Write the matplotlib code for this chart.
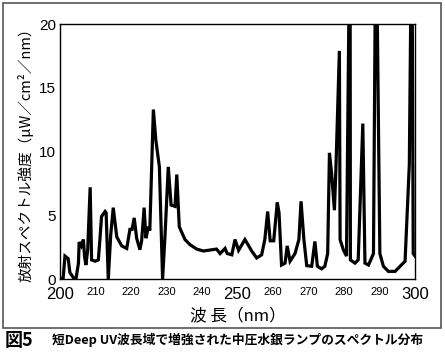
import matplotlib
matplotlib.use("Agg")
import matplotlib.pyplot as plt
from matplotlib.patches import Rectangle

# wavelength (nm) and intensity (uW/cm2/nm); peaks above 20 are clipped
wl = [200, 200.9, 201.4, 202.3, 202.8, 203.8, 204.5, 205.2, 205.4, 206.0, 206.6, 206.9,
      207.3, 207.8, 208.5, 208.9, 209.9, 210.8, 211.3, 211.7, 212.7, 213.0, 213.6, 214.3,
      215.0, 216.0, 217.4, 218.8, 219.7, 220.3, 220.9, 221.6, 222.5, 223.0, 223.7, 224.2,
      224.9, 225.3, 226.3, 227.0, 228.0, 228.9, 229.6, 230.5, 231.3, 232.4, 232.9, 233.6,
      235.2, 236.6, 238.5, 240.4, 244.1, 245.1, 246.5, 247.1, 248.4, 249.3, 250.3, 252.1,
      254.0, 255.4, 256.8, 257.7, 258.5, 259.2, 260.2, 261.2, 261.7, 262.4, 263.4, 264.0,
      264.8, 266.2, 267.3, 267.9, 268.7, 269.5, 270.9, 271.8, 272.5, 273.7, 274.6, 275.4,
      275.9, 276.5, 277.3, 277.7, 278.7, 278.9, 279.8, 280.7, 281.7, 281.8, 283.1, 284.0,
      285.3, 285.9, 286.9, 288.3, 289.0, 290.1, 291.1, 292.5, 294.4, 295.8, 297.2, 298.4,
      299.1, 299.5, 300]
intensity = [0, 0.1, 1.8, 1.6, 0.5, 0.1, 0, 1.25, 2.9, 2.6, 3.1, 1.8,
             1.1, 2.3, 7.2, 1.5, 1.4, 1.5, 3.3, 4.9, 5.3, 5.2, 0, 3.5,
             5.6, 3.3, 2.6, 2.4, 3.9, 3.9, 4.8, 3.2, 2.3, 3.0, 5.6, 3.2,
             4.1, 3.8, 13.3, 10.9, 8.8, 0, 3.5, 8.8, 5.8, 5.7, 8.2, 4.1,
             3.1, 2.7, 2.35, 2.2, 2.35, 2.0, 2.4, 2.0, 1.9, 3.1, 2.25, 3.1,
             2.2, 1.65, 1.9, 3.1, 5.3, 3.0, 3.0, 6.0, 5.2, 1.1, 1.25, 2.6,
             1.4, 2.0, 3.1, 6.1, 3.1, 1.05, 1.0, 2.95, 1.0, 0.8, 1.0, 2.0,
             9.9, 8.3, 5.4, 8.5, 17.9, 3.1, 2.3, 1.8, 30, 1.5, 1.25, 1.5,
             12.2, 1.25, 1.1, 2.0, 30, 2.0, 1.0, 0.6, 0.6, 1.0, 1.4, 9.0,
             30, 2.0, 1.8]

xticks = [200, 210, 220, 230, 240, 250, 260, 270, 280, 290, 300]
yticks = [0, 5, 10, 15, 20]
big_x = [200, 250, 300]

num_font = ['Liberation Sans', 'DejaVu Sans']
jp_font = ['Noto Sans CJK JP', 'DejaVu Sans']

fig = plt.figure(figsize=(4.45, 3.55), dpi=100)
ax = fig.add_axes([0.1348, 0.214, 0.7978, 0.718])

ax.plot(wl, intensity, color='black', lw=2.3, solid_joinstyle='miter', clip_on=True)
ax.set_xlim(200, 300)
ax.set_ylim(0, 20)

ax.set_xticks(xticks)
ax.set_xticklabels([])
ax.set_yticks(yticks)
ax.set_yticklabels([str(v) for v in yticks], family=num_font, fontsize=11)
ax.tick_params(length=0, pad=3)

for t in xticks:
    size = 12 if t in big_x else 8
    ax.text(t, -0.6, str(t), ha='center', va='top', family=num_font, fontsize=size,
            transform=ax.transData)

for s in ax.spines.values():
    s.set_linewidth(1.0)

ax.set_xlabel('波 長（nm）', family=jp_font, fontsize=12, labelpad=17)
ax.set_ylabel('放射スペクトル強度（μW／cm²／nm）', family=jp_font, fontsize=10.5, labelpad=4)

fig.patches.append(Rectangle((3 / 445, 27 / 355), 438 / 445, 325 / 355,
                             transform=fig.transFigure, fill=False,
                             edgecolor='#555555', lw=1.2))

fig.text(5 / 445, 15 / 355, '図5', family=jp_font, fontsize=13, fontweight='bold',
         va='center', ha='left')
fig.text(52 / 445, 15 / 355, '短Deep UV波長域で増強された中圧水銀ランプのスペクトル分布',
         family=jp_font, fontsize=9.2, fontweight='bold', va='center', ha='left')

fig.savefig('out.png', dpi=100)
